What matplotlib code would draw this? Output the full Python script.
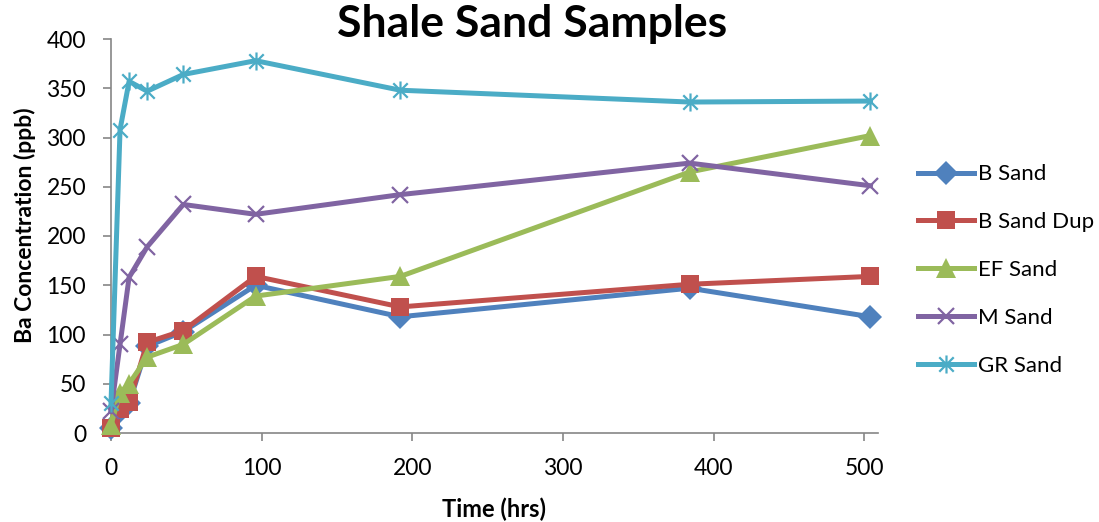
import numpy as np
import matplotlib.pyplot as plt
from matplotlib.path import Path

plt.rcParams['font.family'] = ['Lato', 'DejaVu Sans']

# datos
tiempo = [0, 6, 12, 24, 48, 96, 192, 384, 504]
b_sand = [5, 22, 30, 88, 103, 150, 118, 147, 118]
b_sand_dup = [5, 24, 31, 92, 104, 159, 128, 151, 159]
ef_sand = [8, 41, 50, 77, 90, 139, 159, 265, 302]
m_sand = [22, 90, 158, 189, 232, 222, 242, 274, 251]
gr_sand = [30, 308, 357, 347, 364, 378, 348, 336, 337]

series = [
    ('B Sand', b_sand, '#4F81BD', 'D', 12),
    ('B Sand Dup', b_sand_dup, '#C0504D', 's', 13),
    ('EF Sand', ef_sand, '#9BBB59', '^', 14),
    ('M Sand', m_sand, '#8064A2', 'x', 12),
    ('GR Sand', gr_sand, '#4BACC6', 'star', 13),
]

# marcador tipo asterisco de Excel
estrella = Path([(-1, -1), (1, 1), (-1, 1), (1, -1), (0, -1.25), (0, 1.25)],
                [Path.MOVETO, Path.LINETO, Path.MOVETO, Path.LINETO, Path.MOVETO, Path.LINETO])

fig = plt.figure(figsize=(10.99, 5.22), dpi=100)
ax = fig.add_axes([111/1099, 1-433/522, 767/1099, 394/522])

for nombre, y, c, m, ms in series:
    mk = estrella if m == 'star' else m
    if m in ('x', 'star'):
        ax.plot(tiempo, y, color=c, lw=3.6, marker=mk, ms=ms, mew=1.6,
                mec=c, label=nombre, clip_on=False, zorder=3)
    else:
        ax.plot(tiempo, y, color=c, lw=3.6, marker=mk, ms=ms, mec=c, mfc=c,
                mew=0, label=nombre, clip_on=False, zorder=3)

ax.set_xlim(0, 509)
ax.set_ylim(0, 400)
ax.set_xticks(np.arange(0, 501, 100))
ax.set_yticks(np.arange(0, 401, 50))
for s in ['top', 'right']:
    ax.spines[s].set_visible(False)
for s in ['left', 'bottom']:
    ax.spines[s].set_color('#868686')
    ax.spines[s].set_linewidth(1.2)
ax.tick_params(axis='both', colors='#868686', length=6, width=1.2, labelsize=16.5,
               labelcolor='black')
ax.tick_params(axis='y', pad=12)
ax.tick_params(axis='x', pad=12)

fig.text(532/1099, 1-24/522, 'Shale Sand Samples', ha='center', va='center',
         fontsize=32, fontweight='bold')
fig.text(494/1099, 1-509/522, 'Time (hrs)', ha='center', va='center',
         fontsize=17, fontweight='bold')
fig.text(25/1099, 1-225/522, 'Ba Concentration (ppb)', ha='center', va='center',
         rotation=90, fontsize=16.5, fontweight='bold')

ax.legend(loc='center left', bbox_to_anchor=(907/1099, 1-270/522),
          bbox_transform=fig.transFigure, frameon=False, fontsize=16,
          handlelength=2.5, handletextpad=0.2, labelspacing=1.25, borderpad=0)

fig.savefig('out.png', dpi=100)
